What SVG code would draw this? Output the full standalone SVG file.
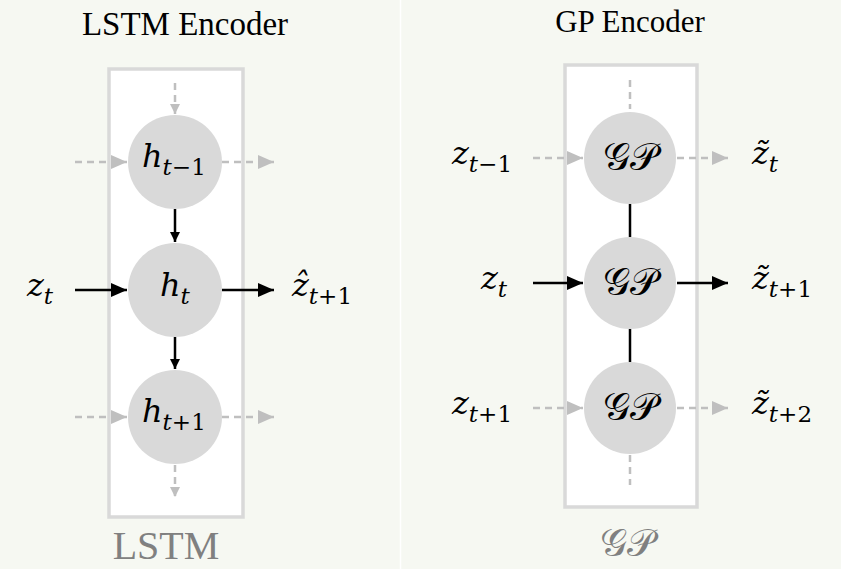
<svg xmlns="http://www.w3.org/2000/svg" width="841" height="569" viewBox="0 0 841 569">
<defs>
<marker id="ab" markerWidth="10" markerHeight="10" viewBox="0 0 10 10" refX="10" refY="5" orient="auto" markerUnits="userSpaceOnUse">
<path d="M0,0 L10,5 L0,10 z" fill="#000"/>
</marker>
<marker id="ag" markerWidth="10" markerHeight="10" viewBox="0 0 10 10" refX="10" refY="5" orient="auto" markerUnits="userSpaceOnUse">
<path d="M0,0 L10,5 L0,10 z" fill="#bfbfbf"/>
</marker>
<marker id="abL" markerWidth="16" markerHeight="14" viewBox="0 0 16 14" refX="16" refY="7" orient="auto" markerUnits="userSpaceOnUse">
<path d="M0,0 L16,7 L0,14 z" fill="#000"/>
</marker>
<marker id="agL" markerWidth="16" markerHeight="14" viewBox="0 0 16 14" refX="16" refY="7" orient="auto" markerUnits="userSpaceOnUse">
<path d="M0,0 L16,7 L0,14 z" fill="#bfbfbf"/>
</marker>
</defs>
<style>
.title{font-family:"Liberation Serif",serif;fill:#000;text-anchor:middle}
.plate{fill:#fff;stroke:#d9d9d9;stroke-width:3.5}
.node{fill:#d9d9d9}
.m{font-family:"DejaVu Serif",serif;font-style:italic;font-size:32px;fill:#000}
.sub{font-size:23px}
.up{font-style:normal}
.cal{font-family:"DejaVu Sans","Noto Sans",sans-serif;font-style:normal;text-anchor:middle;font-size:38px}
.solid{stroke:#000;stroke-width:2.5;fill:none}
.dash{stroke:#bfbfbf;stroke-width:2.5;stroke-dasharray:7,5;fill:none}
</style>
<rect width="841" height="569" fill="#f6f8f2"/>
<line x1="400.5" y1="0" x2="400.5" y2="569" stroke="#fff" stroke-width="1.5"/>
<text class="title" x="185" y="35" font-size="33">LSTM Encoder</text>
<text class="title" x="630" y="32" font-size="31">GP Encoder</text>
<g id="plate-lstm"><rect class="plate" x="109" y="69" width="134" height="448"/>
<text x="166" y="559" font-family="Liberation Serif,serif" font-size="40" fill="#808080" text-anchor="middle">LSTM</text></g>
<g id="plate-gp"><rect class="plate" x="565" y="65" width="132" height="442"/>
<text class="cal" x="627" y="556" fill="#808080" font-size="44">𝒢𝒫</text></g>
<g id="connectors">
<line class="dash" x1="175" y1="83" x2="175" y2="114" marker-end="url(#ag)"/>
<line class="dash" x1="75" y1="162" x2="127" y2="162" marker-end="url(#agL)"/>
<line class="dash" x1="222" y1="162" x2="274" y2="162" marker-end="url(#agL)"/>
<line class="solid" x1="175" y1="209" x2="175" y2="242" marker-end="url(#ab)"/>
<line class="solid" x1="75" y1="290" x2="127" y2="290" marker-end="url(#abL)"/>
<line class="solid" x1="222" y1="290" x2="274" y2="290" marker-end="url(#abL)"/>
<line class="solid" x1="175" y1="337" x2="175" y2="369" marker-end="url(#ab)"/>
<line class="dash" x1="75" y1="417" x2="127" y2="417" marker-end="url(#agL)"/>
<line class="dash" x1="222" y1="417" x2="274" y2="417" marker-end="url(#agL)"/>
<line class="dash" x1="175" y1="465" x2="175" y2="497" marker-end="url(#ag)"/>
<line class="dash" x1="630" y1="80" x2="630" y2="109"/>
<line class="dash" x1="533" y1="158" x2="583" y2="158" marker-end="url(#agL)"/>
<line class="dash" x1="677" y1="158" x2="728" y2="158" marker-end="url(#agL)"/>
<line class="solid" x1="630" y1="204" x2="630" y2="237"/>
<line class="solid" x1="533" y1="283" x2="583" y2="283" marker-end="url(#abL)"/>
<line class="solid" x1="677" y1="283" x2="728" y2="283" marker-end="url(#abL)"/>
<line class="solid" x1="630" y1="329" x2="630" y2="362"/>
<line class="dash" x1="533" y1="408" x2="583" y2="408" marker-end="url(#agL)"/>
<line class="dash" x1="677" y1="408" x2="728" y2="408" marker-end="url(#agL)"/>
<line class="dash" x1="630" y1="455" x2="630" y2="485"/>
</g>
<g id="h-tm1"><circle class="node" cx="175" cy="162" r="47"/><text class="m" x="142" y="167">h<tspan class="sub" dy="8">t</tspan><tspan class="sub up">−1</tspan></text></g>
<g id="h-t"><circle class="node" cx="175" cy="290" r="47"/><text class="m" x="160" y="296">h<tspan class="sub" dy="8">t</tspan></text></g>
<g id="h-tp1"><circle class="node" cx="175" cy="417" r="47"/><text class="m" x="142" y="422">h<tspan class="sub" dy="8">t</tspan><tspan class="sub up">+1</tspan></text></g>
<g id="gp1"><circle class="node" cx="630" cy="158" r="46"/><text class="cal" x="630" y="170">𝒢𝒫</text></g>
<g id="gp2"><circle class="node" cx="630" cy="283" r="46"/><text class="cal" x="630" y="295">𝒢𝒫</text></g>
<g id="gp3"><circle class="node" cx="630" cy="408" r="46"/><text class="cal" x="630" y="420">𝒢𝒫</text></g>
<g id="lbl-zt"><text class="m" x="27" y="296">z<tspan class="sub" dy="8">t</tspan></text></g>
<g id="lbl-zhat"><text class="m" x="292" y="296">ẑ<tspan class="sub" dy="8">t</tspan><tspan class="sub up">+1</tspan></text></g>
<g id="lbl-ztm1"><text class="m" x="452" y="164">z<tspan class="sub" dy="8">t</tspan><tspan class="sub up">−1</tspan></text></g>
<g id="lbl-zt2"><text class="m" x="481" y="289">z<tspan class="sub" dy="8">t</tspan></text></g>
<g id="lbl-ztp1"><text class="m" x="452" y="414">z<tspan class="sub" dy="8">t</tspan><tspan class="sub up">+1</tspan></text></g>
<g id="lbl-zt-t"><text class="m" x="752" y="164">z̃<tspan class="sub" dy="8">t</tspan></text></g>
<g id="lbl-zt-tp1"><text class="m" x="752" y="289">z̃<tspan class="sub" dy="8">t</tspan><tspan class="sub up">+1</tspan></text></g>
<g id="lbl-zt-tp2"><text class="m" x="752" y="414">z̃<tspan class="sub" dy="8">t</tspan><tspan class="sub up">+2</tspan></text></g>
</svg>
